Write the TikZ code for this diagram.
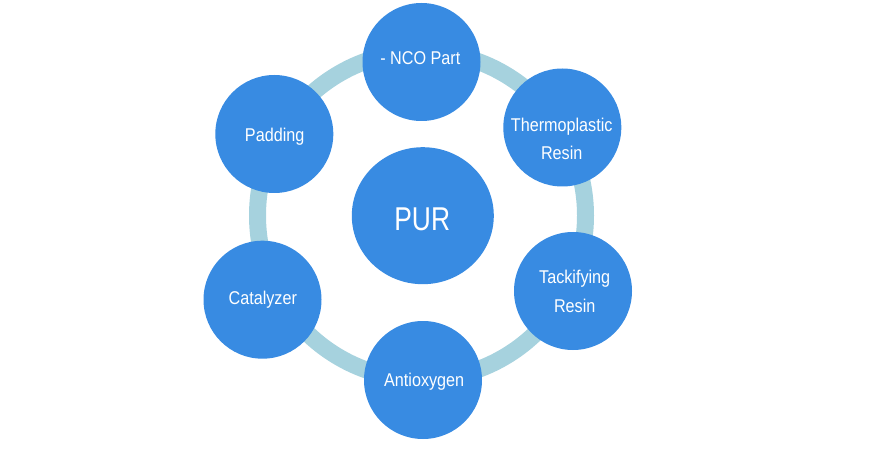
\documentclass[tikz,border=0pt]{standalone}
\usepackage{fontspec}
\setmainfont{Liberation Sans}
\usetikzlibrary{shapes.geometric}
\definecolor{nodeblue}{RGB}{56,139,226}
\definecolor{ringblue}{RGB}{166,210,222}
\newcommand{\smalllbl}[1]{\scalebox{0.875}[1]{\fontsize{18.5}{28}\selectfont\begin{tabular}{@{}c@{}}#1\end{tabular}}}
\newcommand{\biglbl}[1]{\scalebox{0.8}[1]{\fontsize{33}{40}\selectfont\begin{tabular}{@{}c@{}}#1\end{tabular}}}
\tikzset{
  ballnode/.style={circle, fill=nodeblue, draw=none, minimum size=118pt, inner sep=0pt},
  hubnode/.style={ellipse, fill=nodeblue, draw=none, minimum width=142pt, minimum height=137pt, inner sep=0pt},
  lblnode/.style={text=white, inner sep=0pt, anchor=center},
  ringline/.style={draw=ringblue, line width=17pt}
}
\begin{document}
\begin{tikzpicture}[x=1pt,y=-1pt]
\useasboundingbox (0,0) rectangle (870,449);
\coordinate (ringc) at (421.5,215.5);
\draw[ringline] (ringc) circle[radius=164];
\node[hubnode] (pur) at (422.8,215.7) {};
\node[ballnode] (nco) at (421.5,62) {};
\node[ballnode] (thermo) at (562.3,127.5) {};
\node[ballnode] (tacki) at (573,291) {};
\node[ballnode] (anti) at (423,380) {};
\node[ballnode] (cata) at (262.5,299.7) {};
\node[ballnode] (padd) at (274.3,134) {};
\node[lblnode] (purt) at (422.2,222.7) {\biglbl{PUR}};
\node[lblnode] (ncot) at (420.3,59.4) {\smalllbl{- NCO Part}};
\node[lblnode] (thermot) at (561.7,140.1) {\smalllbl{Thermoplastic\\Resin}};
\node[lblnode] (tackit) at (574.7,292.4) {\smalllbl{Tackifying\\Resin}};
\node[lblnode] (antit) at (424.2,380.4) {\smalllbl{Antioxygen}};
\node[lblnode] (catat) at (262.8,298.4) {\smalllbl{Catalyzer}};
\node[lblnode] (paddt) at (274.7,136.1) {\smalllbl{Padding}};
\end{tikzpicture}
\end{document}
